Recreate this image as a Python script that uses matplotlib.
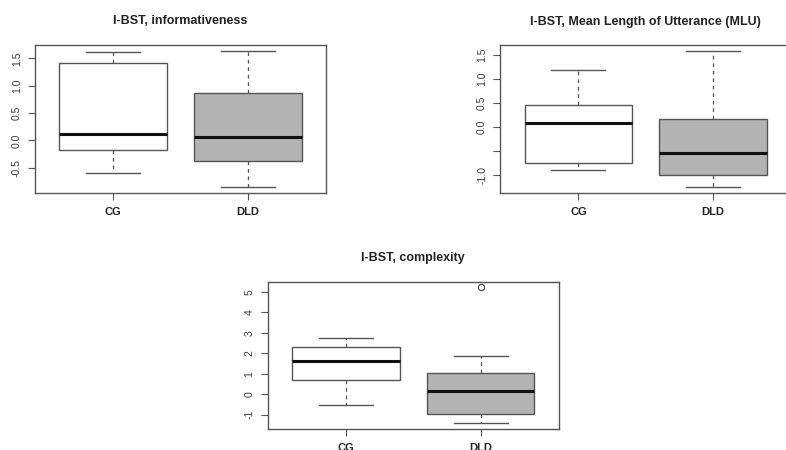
import matplotlib
matplotlib.use("Agg")
import matplotlib.pyplot as plt
from matplotlib.transforms import offset_copy

plt.rcParams['font.family'] = ['Liberation Sans', 'DejaVu Sans']

groups = ['CG', 'DLD']

titles = ['I-BST, informativeness',
          'I-BST, Mean Length of Utterance (MLU)',
          'I-BST, complexity']

# per panel: [CG, DLD]
info_whislo = [-0.60, -0.86]
info_q1 = [-0.18, -0.38]
info_med = [0.12, 0.06]
info_q3 = [1.42, 0.87]
info_whishi = [1.62, 1.63]
info_fliers = [[], []]

mlu_whislo = [-0.90, -1.26]
mlu_q1 = [-0.76, -1.00]
mlu_med = [0.08, -0.54]
mlu_q3 = [0.46, 0.16]
mlu_whishi = [1.19, 1.58]
mlu_fliers = [[], []]

cx_whislo = [-0.54, -1.41]
cx_q1 = [0.68, -0.97]
cx_med = [1.64, 0.16]
cx_q3 = [2.33, 1.06]
cx_whishi = [2.77, 1.89]
cx_fliers = [[], [5.24]]

info_ticks = [-0.5, 0.0, 0.5, 1.0, 1.5]
info_ticklabels = ['-0.5', '0.0', '0.5', '1.0', '1.5']
mlu_ticks = [-1.0, -0.5, 0.0, 0.5, 1.0, 1.5]
mlu_ticklabels = ['-1.0', '', '0.0', '0.5', '1.0', '1.5']
cx_ticks = [-1, 0, 1, 2, 3, 4, 5]
cx_ticklabels = ['-1', '0', '1', '2', '3', '4', '5']

fills = ['white', '#b3b3b3']

panels = [
    dict(rect=[35/786, 1-193/450, 291/786, 148/450], ylim=(-0.963, 1.744),
         stats=(info_whislo, info_q1, info_med, info_q3, info_whishi, info_fliers),
         ticks=info_ticks, labels=info_ticklabels, title=titles[0]),
    dict(rect=[500.3/786, 1-192.7/450, 291/786, 147.4/450], ylim=(-1.37, 1.70),
         stats=(mlu_whislo, mlu_q1, mlu_med, mlu_q3, mlu_whishi, mlu_fliers),
         ticks=mlu_ticks, labels=mlu_ticklabels, title=titles[1]),
    dict(rect=[267.7/786, 1-428.7/450, 291/786, 147/450], ylim=(-1.68, 5.50),
         stats=(cx_whislo, cx_q1, cx_med, cx_q3, cx_whishi, cx_fliers),
         ticks=cx_ticks, labels=cx_ticklabels, title=titles[2]),
]

fig = plt.figure(figsize=(7.86, 4.5), dpi=100)
edge = '#555555'

for p in panels:
    ax = fig.add_axes(p['rect'])
    wl, q1, md, q3, wh, fl = p['stats']
    bstats = []
    for i, g in enumerate(groups):
        bstats.append(dict(label=g, whislo=wl[i], q1=q1[i], med=md[i],
                           q3=q3[i], whishi=wh[i], fliers=fl[i]))
    bp = ax.bxp(bstats, positions=[1, 2], widths=0.8, patch_artist=True,
                showfliers=True,
                boxprops=dict(edgecolor=edge, linewidth=1.0),
                whiskerprops=dict(color=edge, linestyle=(0, (3, 3)), linewidth=0.9),
                capprops=dict(color=edge, linewidth=1.0),
                medianprops=dict(color='#111111', linewidth=2.2, solid_capstyle='butt'),
                flierprops=dict(marker='o', markerfacecolor='none',
                                markeredgecolor='#444444', markersize=4.5,
                                markeredgewidth=0.8))
    for patch, c in zip(bp['boxes'], fills):
        patch.set_facecolor(c)
    for cap in bp['caps']:
        x0, x1 = cap.get_xdata()
        xc = (x0 + x1) / 2
        cap.set_xdata([xc - 0.2, xc + 0.2])
    ax.set_xlim(0.42, 2.58)
    ax.set_ylim(*p['ylim'])
    ax.set_yticks(p['ticks'])
    ax.set_yticklabels(p['labels'], rotation=90, va='center', fontsize=7.5, color='#3a3a3a')
    ax.set_xticks([1, 2])
    ax.set_xticklabels(groups, fontsize=8, fontweight='bold', color='#222222')
    ax.tick_params(axis='y', length=5, width=0.8, color=edge, pad=4.5)
    ax.tick_params(axis='x', length=5, width=0.8, color=edge, pad=5)
    for s in ax.spines.values():
        s.set_color(edge)
        s.set_linewidth(1.0)
    tr = offset_copy(ax.transAxes, fig=fig, x=0, y=23.5 * 72 / 100, units='points')
    ax.text(0.5, 1.0, p['title'], transform=tr, ha='center', va='center',
            fontsize=9, fontweight='bold', color='#222222')

fig.savefig('out.png', dpi=100)
